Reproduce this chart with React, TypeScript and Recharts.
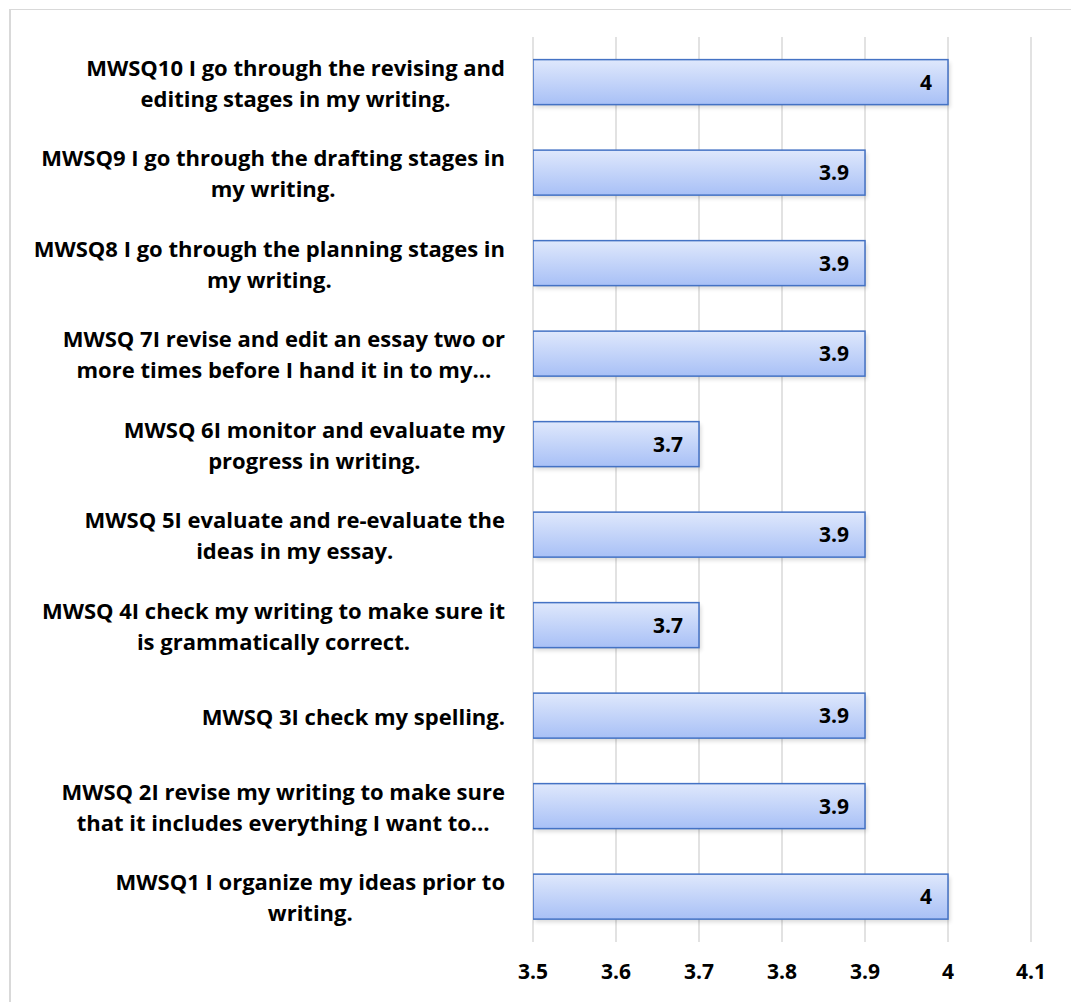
import { BarChart, Bar, XAxis, YAxis, CartesianGrid, LabelList } from "recharts";

const categories = [
  "MWSQ10",
  "MWSQ9",
  "MWSQ8",
  "MWSQ 7",
  "MWSQ 6",
  "MWSQ 5",
  "MWSQ 4",
  "MWSQ 3",
  "MWSQ 2",
  "MWSQ1",
];

const labelLines = [
  ["MWSQ10 I go through the revising and", "editing stages in my writing."],
  ["MWSQ9 I go through the drafting stages in", "my writing."],
  ["MWSQ8 I go through the planning stages in", "my writing."],
  ["MWSQ 7I revise and edit an essay two or", "more times before I hand it in to my…"],
  ["MWSQ 6I monitor and evaluate my", "progress in writing."],
  ["MWSQ 5I evaluate and re-evaluate the", "ideas in my essay."],
  ["MWSQ 4I check my writing to make sure it", "is grammatically correct."],
  ["MWSQ 3I check my spelling."],
  ["MWSQ 2I revise my writing to make sure", "that it includes everything I want to…"],
  ["MWSQ1 I organize my ideas prior to", "writing."],
];

const values = [4, 3.9, 3.9, 3.9, 3.7, 3.9, 3.7, 3.9, 3.9, 4];

const xTicks = [3.5, 3.6, 3.7, 3.8, 3.9, 4, 4.1];

const data = categories.map((c, i) => ({ item: c, idx: i, value: values[i] }));

const FONT = "'Open Sans', Lato, sans-serif";
const LABEL_SIZE = 22;

let ctx: CanvasRenderingContext2D | null = null;
function textWidth(s: string) {
  if (!ctx) {
    ctx = document.createElement("canvas").getContext("2d");
  }
  if (!ctx) return s.length * LABEL_SIZE * 0.55;
  ctx.font = `bold ${LABEL_SIZE}px "Open Sans"`;
  return ctx.measureText(s).width;
}

function fmt(v: number) {
  return String(Number(v.toFixed(1)));
}

function CategoryTick(props: any) {
  const { x, y, payload } = props;
  const lines = labelLines[payload.index] || [payload.value];
  const lh = 31;
  const maxW = Math.max(...lines.map(textWidth));
  const cx = x - maxW / 2;
  const startY = y - ((lines.length - 1) * lh) / 2;
  return (
    <text
      x={cx}
      y={startY}
      textAnchor="middle"
      dominantBaseline="central"
      fontFamily={FONT}
      fontWeight={700}
      fontSize={LABEL_SIZE}
      fill="#000"
    >
      {lines.map((l, i) => (
        <tspan key={i} x={cx} y={startY + i * lh}>
          {l}
        </tspan>
      ))}
    </text>
  );
}

function BarShape(props: any) {
  const { x, y, width, height } = props;
  if (!width || width <= 0) return null;
  return (
    <g>
      <rect
        x={x + 2}
        y={y + 3}
        width={width}
        height={height}
        fill="#000"
        opacity={0.15}
        filter="url(#barBlur)"
      />
      <rect
        x={x}
        y={y}
        width={width}
        height={height}
        fill="url(#barGrad)"
        stroke="#4472c4"
        strokeWidth={1.5}
      />
    </g>
  );
}

export default function App() {
  return (
    <div
      style={{
        position: "absolute",
        left: 0,
        top: 0,
        width: 1071,
        height: 1002,
        overflow: "hidden",
        background: "#fff",
      }}
    >
      <svg width={0} height={0} style={{ position: "absolute" }}>
        <defs>
          <linearGradient id="barGrad" x1="0" y1="0" x2="0" y2="1">
            <stop offset="0%" stopColor="#dfe8fc" />
            <stop offset="100%" stopColor="#a8c0f6" />
          </linearGradient>
          <filter id="barBlur" x="-10%" y="-30%" width="120%" height="160%">
            <feGaussianBlur stdDeviation="2" />
          </filter>
        </defs>
      </svg>
      <div
        style={{
          position: "absolute",
          left: 9,
          top: 9,
          width: 1100,
          height: 1100,
          borderLeft: "2px solid #d9d9d9",
          borderTop: "1px solid #d9d9d9",
        }}
      />
      <div style={{ position: "absolute", left: 0, top: 0 }}>
        <BarChart
          width={1071}
          height={1002}
          data={data}
          layout="vertical"
          barCategoryGap="25%"
          margin={{ top: 37, right: 40, left: 0, bottom: 0 }}
        >
          <CartesianGrid horizontal={false} stroke="#d9d9d9" strokeWidth={1.5} />
          <XAxis
            type="number"
            domain={[3.5, 4.1]}
            ticks={xTicks}
            tickFormatter={fmt}
            axisLine={false}
            tickLine={false}
            tickSize={0}
            tickMargin={22}
            height={60}
            interval={0}
            allowDataOverflow
            tick={{ fontSize: 21, fontWeight: 700, fill: "#000", fontFamily: FONT }}
          />
          <YAxis
            type="category"
            dataKey="item"
            width={533}
            axisLine={false}
            tickLine={false}
            tickSize={0}
            tickMargin={28}
            interval={0}
            tick={<CategoryTick />}
          />
          <Bar dataKey="value" isAnimationActive={false} shape={<BarShape />}>
            <LabelList
              dataKey="value"
              position="insideRight"
              offset={16}
              formatter={(v: any) => fmt(Number(v))}
              style={{ fontSize: 21, fontWeight: 700, fill: "#000", fontFamily: FONT }}
            />
          </Bar>
        </BarChart>
      </div>
    </div>
  );
}
